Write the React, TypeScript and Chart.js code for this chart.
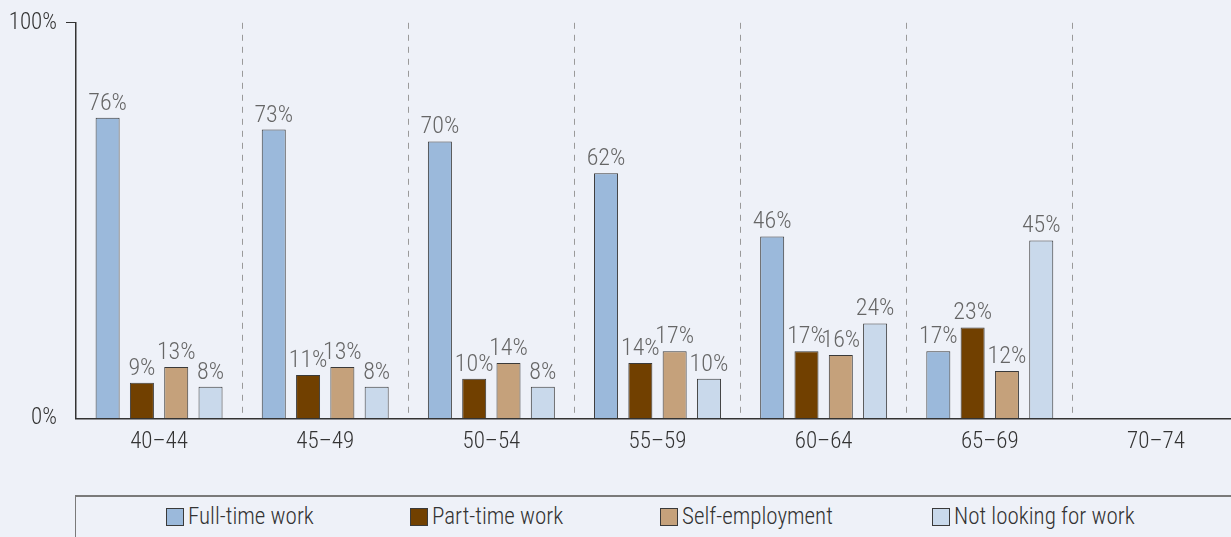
import React, { useEffect, useRef } from "react";
import { Chart, registerables } from "chart.js";
Chart.register(...registerables);

const categories = ["40–44", "45–49", "50–54", "55–59", "60–64", "65–69", "70–74"];
const fullTime = [76, 73, 70, 62, 46, 17, null];
const partTime = [9, 11, 10, 14, 17, 23, null];
const selfEmployment = [13, 13, 14, 17, 16, 12, null];
const notLooking = [8, 8, 8, 10, 24, 45, null];
const yTickValues = [0, 100];
const seriesNames = ["Full-time work", "Part-time work", "Self-employment", "Not looking for work"];
const seriesColors = ["#9bb9db", "#714000", "#c5a17b", "#c9d9eb"];

const FONT = "'Roboto Condensed','Liberation Sans Narrow','DejaVu Sans Condensed',Roboto,sans-serif";
const BG = "#eef1f8";

const dataLabelPlugin = {
  id: "dataLabels",
  afterDatasetsDraw(chart: any) {
    const ctx = chart.ctx;
    ctx.save();
    ctx.font = `300 24px ${FONT}`;
    ctx.fillStyle = "#666666";
    ctx.textAlign = "center";
    ctx.textBaseline = "bottom";
    chart.data.datasets.forEach((ds: any, di: number) => {
      const meta = chart.getDatasetMeta(di);
      meta.data.forEach((bar: any, i: number) => {
        const v = ds.data[i];
        if (v === null || v === undefined) return;
        ctx.fillText(`${v}%`, bar.x, bar.y - 2);
      });
    });
    ctx.restore();
  },
};

export default function App() {
  const ref = useRef<HTMLCanvasElement | null>(null);
  useEffect(() => {
    if (!ref.current) return;
    const series = [fullTime, partTime, selfEmployment, notLooking];
    const chart = new Chart(ref.current, {
      type: "bar",
      data: {
        labels: categories,
        datasets: series.map((d, i) => ({
          label: seriesNames[i],
          data: d,
          backgroundColor: seriesColors[i],
          borderColor: "#3a3a3a",
          borderWidth: 1,
          categoryPercentage: 0.826,
          barPercentage: 0.7,
        })),
      },
      options: {
        responsive: false,
        animation: false,
        devicePixelRatio: 1,
        layout: { padding: { top: 12, right: 1, bottom: 0, left: 0 } },
        plugins: { legend: { display: false }, tooltip: { enabled: false } },
        scales: {
          x: {
            offset: true,
            grid: {
              offset: true,
              drawTicks: false,
              color: (c: any) => (c.index === 0 ? "rgba(0,0,0,0)" : "#9a9a9a"),
              lineWidth: 1,
            },
            border: { display: true, color: "#333333", width: 1.5, dash: [6, 6] },
            ticks: {
              color: "#333333",
              font: { family: FONT, size: 23, weight: "300" },
              padding: 10,
            },
          },
          y: {
            min: 0,
            max: 100,
            afterBuildTicks: (s: any) => {
              s.ticks = yTickValues.map((v) => ({ value: v }));
            },
            afterFit: (s: any) => {
              s.width = 76;
            },
            grid: {
              drawOnChartArea: false,
              drawTicks: true,
              tickLength: 10,
              color: (c: any) => (c.tick && c.tick.value === 0 ? "rgba(0,0,0,0)" : "#333333"),
            },
            border: { display: true, color: "#333333", width: 1.5 },
            ticks: {
              color: "#333333",
              font: { family: FONT, size: 23, weight: "300" },
              padding: 9,
              callback: (v: any) => `${v}%`,
            },
          },
        },
      },
      plugins: [dataLabelPlugin],
    });
    return () => chart.destroy();
  }, []);

  const legendLefts = [166, 410, 660, 932];
  return (
    <div
      style={{
        position: "fixed",
        left: 0,
        top: 0,
        width: 1231,
        height: 537,
        overflow: "hidden",
        background: BG,
      }}
    >
      <canvas ref={ref} width={1240} height={466} style={{ position: "absolute", left: 0, top: 0 }} />
      <div
        style={{
          position: "absolute",
          left: 75,
          top: 495,
          width: 1200,
          height: 80,
          borderTop: "2px solid #7a7a7a",
          borderLeft: "1px solid #7a7a7a",
        }}
      />
      {seriesNames.map((n, i) => (
        <div
          key={n}
          style={{
            position: "absolute",
            left: legendLefts[i],
            top: 505,
            display: "flex",
            alignItems: "center",
            fontFamily: FONT,
            fontSize: 23,
            fontWeight: 300,
            color: "#333333",
            whiteSpace: "nowrap",
            lineHeight: "24px",
          }}
        >
          <span
            style={{
              display: "inline-block",
              width: 16,
              height: 16,
              background: seriesColors[i],
              border: "1px solid #3a3a3a",
              marginRight: 4,
            }}
          />
          {n}
        </div>
      ))}
    </div>
  );
}
